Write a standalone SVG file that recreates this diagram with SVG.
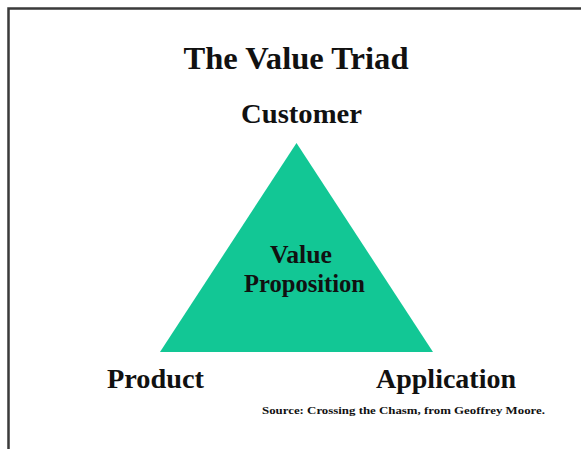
<svg xmlns="http://www.w3.org/2000/svg" width="581" height="449" viewBox="0 0 581 449">
<style>
.t{font-family:"Liberation Serif","Times New Roman",serif;font-weight:bold;fill:#111;text-anchor:middle}
</style>
<rect x="0" y="0" width="581" height="449" fill="#fff"/>
<g id="frame">
<path d="M8.5,449 V8.5 H581" fill="none" stroke="#3a3a3a" stroke-width="2.5"/>
</g>
<g id="title"><text class="t" x="296" y="69" font-size="31" textLength="225" lengthAdjust="spacingAndGlyphs">The Value Triad</text></g>
<g id="triangle">
<polygon points="296.5,143 160,352 433,352" fill="#12c795"/>
<text class="t" x="301" y="263" font-size="25" textLength="62" lengthAdjust="spacingAndGlyphs">Value</text>
<text class="t" x="304.5" y="292" font-size="25" textLength="121" lengthAdjust="spacingAndGlyphs">Proposition</text>
</g>
<g id="customer"><text class="t" x="301.5" y="123" font-size="28" textLength="121" lengthAdjust="spacingAndGlyphs">Customer</text></g>
<g id="product"><text class="t" x="155.5" y="388" font-size="28" textLength="97" lengthAdjust="spacingAndGlyphs">Product</text></g>
<g id="application"><text class="t" x="446" y="388" font-size="28" textLength="140" lengthAdjust="spacingAndGlyphs">Application</text></g>
<g id="connectors"></g>
<g id="source"><text class="t" x="403.5" y="414" font-size="11" textLength="283" lengthAdjust="spacingAndGlyphs">Source: Crossing the Chasm, from Geoffrey Moore.</text></g>
</svg>
